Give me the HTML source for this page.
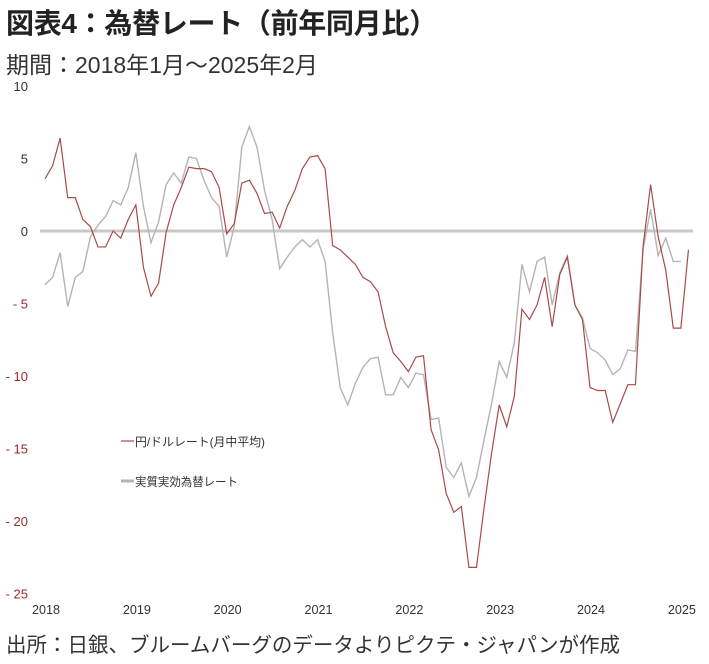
<!DOCTYPE html>
<html><head><meta charset="utf-8"><style>
body{margin:0;background:#fff;width:709px;height:664px;overflow:hidden;font-family:"Liberation Sans","Noto Sans CJK JP",sans-serif;}
.t{position:absolute;left:6px;white-space:nowrap;color:#222;}
</style></head><body>
<div class="t" style="top:2px;font-size:28px;font-weight:bold;letter-spacing:-0.3px;">図表4：為替レート（前年同月比）</div>
<div class="t" style="top:46px;font-size:23px;color:#333;">期間：2018年1月～2025年2月</div>
<div class="t" style="top:628px;font-size:20.5px;color:#333;">出所：日銀、ブルームバーグのデータよりピクテ・ジャパンが作成</div>
<svg id="chart" width="709" height="664" style="position:absolute;left:0;top:0" xmlns="http://www.w3.org/2000/svg"></svg>
<script>
const yTicks=[10,5,0,-5,-10,-15,-20,-25];
const xYears=["2018","2019","2020","2021","2022","2023","2024","2025"];
const usdjpy=[3.6,4.5,6.4,2.3,2.3,0.8,0.3,-1.1,-1.1,0,-0.5,0.8,
1.8,-2.5,-4.5,-3.6,-0.1,1.8,3.0,4.4,4.3,4.3,4.1,3.0,
-0.2,0.5,3.3,3.5,2.6,1.2,1.3,0.2,1.7,2.8,4.3,5.1,
5.2,4.3,-1.0,-1.3,-1.8,-2.3,-3.2,-3.5,-4.2,-6.6,-8.4,-9.0,
-9.7,-8.7,-8.6,-13.7,-15.1,-18.1,-19.4,-19.0,-23.2,-23.2,-19.1,-15.3,
-12.0,-13.5,-11.4,-5.4,-6.1,-5.1,-3.2,-6.6,-3.0,-1.8,-5.1,-6.1,
-10.8,-11.0,-11.0,-13.2,-11.9,-10.6,-10.6,-1.1,3.2,-0.4,-2.7,-6.7,
-6.7,-1.3];
const reer=[-3.7,-3.2,-1.5,-5.2,-3.2,-2.8,-0.4,0.4,1.0,2.1,1.8,3.0,
5.4,1.7,-0.8,0.6,3.2,4.0,3.3,5.1,5.0,3.5,2.3,1.7,
-1.8,0.3,5.8,7.2,5.8,2.8,0.8,-2.6,-1.8,-1.1,-0.6,-1.1,
-0.6,-2.1,-7.0,-10.8,-12.0,-10.5,-9.4,-8.8,-8.7,-11.3,-11.3,-10.1,
-10.8,-9.8,-9.9,-13.0,-12.9,-16.3,-17.0,-16.0,-18.3,-17.0,-14.4,-11.9,
-9.0,-10.1,-7.7,-2.3,-4.2,-2.1,-1.8,-5.1,-2.9,-1.7,-5.1,-6.0,
-8.1,-8.4,-8.9,-9.9,-9.5,-8.2,-8.3,-1.3,1.5,-1.7,-0.5,-2.1,
-2.1];
const svg=document.getElementById('chart');
const NS='http://www.w3.org/2000/svg';
const y=v=>231-v*14.5;
const x=i=>45+i*7.57;
function mk(tag,attrs){const e=document.createElementNS(NS,tag);for(const k in attrs)e.setAttribute(k,attrs[k]);svg.appendChild(e);return e;}
yTicks.forEach(v=>{
 const t=mk('text',{x:28,y:y(v)+5,'text-anchor':'end','font-size':13,fill:v<0?'#9a2a2a':'#333','font-family':'Liberation Sans, sans-serif'});
 
 
 t.textContent=v<0?'- '+(-v):String(v);
});
xYears.forEach((s,i)=>{
 const t=mk('text',{x:x(i*12)+1,y:614,'text-anchor':'middle','font-size':13,fill:'#333','font-family':'Liberation Sans, sans-serif',textLength:28,lengthAdjust:'spacingAndGlyphs'});
 
 
 t.textContent=s;
});
const z=mk('line',{x1:40,x2:693,y1:y(0),y2:y(0),stroke:'#c8c8c8','stroke-width':3});


const g=mk('polyline',{points:reer.map((v,i)=>x(i)+','+y(v)).join(' '),fill:'none',stroke:'#b4b4b4','stroke-width':1.4});


const r=mk('polyline',{points:usdjpy.map((v,i)=>x(i)+','+y(v)).join(' '),fill:'none',stroke:'#a84a4a','stroke-width':1.2});


const l1=mk('line',{x1:121,x2:134,y1:441,y2:441,stroke:'#a84a4a','stroke-width':1.2});


const t1=mk('text',{x:135,y:446,'font-size':12,fill:'#333','font-family':'Liberation Sans, Noto Sans CJK JP, sans-serif',textLength:130,lengthAdjust:'spacingAndGlyphs'});


t1.textContent='円/ドルレート(月中平均)';
const l2=mk('line',{x1:121,x2:134,y1:481,y2:481,stroke:'#b4b4b4','stroke-width':3});


const t2=mk('text',{x:135,y:486,'font-size':12,fill:'#333','font-family':'Liberation Sans, Noto Sans CJK JP, sans-serif',textLength:103,lengthAdjust:'spacingAndGlyphs'});


t2.textContent='実質実効為替レート';
</script>
</body></html>
